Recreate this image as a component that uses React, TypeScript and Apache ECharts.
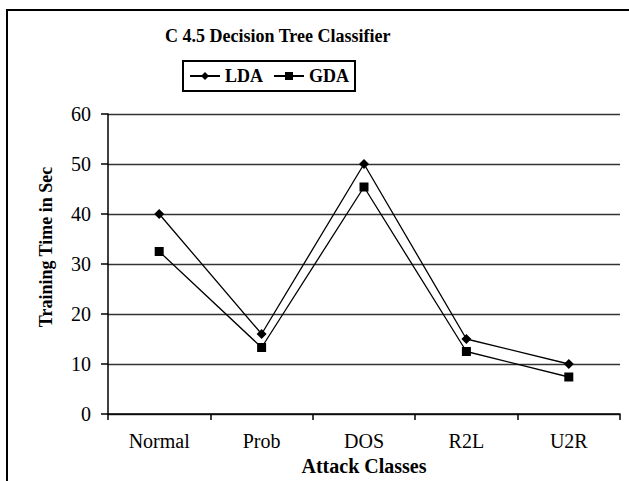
import React, { useEffect, useRef } from "react";
import * as echarts from "echarts";

const categories = ["Normal", "Prob", "DOS", "R2L", "U2R"];
const ldaValues = [40, 16, 50, 15, 10];
const gdaValues = [32.5, 13.3, 45.4, 12.5, 7.4];
const titleText = "C 4.5 Decision Tree Classifier";
const xAxisTitle = "Attack Classes";
const yAxisTitle = "Training Time in Sec";

const SERIF = "Liberation Serif";

export default function App() {
  const ref = useRef<HTMLDivElement>(null);
  useEffect(() => {
    if (!ref.current) return;
    const chart = echarts.init(ref.current, undefined, { renderer: "svg" });
    chart.setOption({
      animation: false,
      backgroundColor: "#ffffff",
      textStyle: { fontFamily: SERIF, color: "#000" },
      title: {
        text: titleText,
        left: 165,
        top: 27,
        padding: 0,
        textStyle: { fontFamily: SERIF, fontWeight: "bold", fontSize: 18, color: "#000" },
      },
      legend: {
        left: 183,
        top: 61,
        orient: "horizontal",
        padding: [6, 6, 6, 6],
        borderColor: "#000",
        borderWidth: 2,
        itemWidth: 30,
        itemHeight: 10,
        itemGap: 10,
        textStyle: { fontFamily: SERIF, fontWeight: "bold", fontSize: 18, color: "#000" },
        data: ["LDA", "GDA"],
      },
      grid: { left: 108, right: 9, top: 114, bottom: 67, containLabel: false },
      xAxis: {
        type: "category",
        data: categories,
        boundaryGap: true,
        axisLine: { lineStyle: { color: "#000", width: 1.5 } },
        axisTick: { show: true, length: 6, lineStyle: { color: "#000", width: 1.5 } },
        axisLabel: { fontFamily: SERIF, fontSize: 20, color: "#000", margin: 17 },
        name: xAxisTitle,
        nameLocation: "middle",
        nameGap: 37,
        nameTextStyle: { fontFamily: SERIF, fontWeight: "bold", fontSize: 20, color: "#000" },
      },
      yAxis: {
        type: "value",
        min: 0,
        max: 60,
        interval: 10,
        axisLine: { show: true, lineStyle: { color: "#000", width: 1.5 } },
        axisTick: { show: true, length: 7, lineStyle: { color: "#000", width: 1.5 } },
        axisLabel: { fontFamily: SERIF, fontSize: 20, color: "#000", margin: 17 },
        splitLine: { show: true, lineStyle: { color: "#333", width: 1.4 } },
      },
      graphic: [
        {
          type: "rect",
          shape: { x: 7, y: 10, width: 660, height: 520 },
          style: { fill: "none", stroke: "#000", lineWidth: 2 },
          silent: true,
        },
        {
          type: "text",
          x: 46,
          y: 247,
          rotation: Math.PI / 2,
          style: {
            text: yAxisTitle,
            fontFamily: SERIF,
            fontWeight: "bold",
            fontSize: 18,
            fill: "#000",
            align: "center",
            verticalAlign: "middle",
          },
        },
      ],
      series: [
        {
          name: "LDA",
          type: "line",
          data: ldaValues,
          symbol: "diamond",
          symbolSize: 10,
          lineStyle: { color: "#000", width: 1.3 },
          itemStyle: { color: "#000" },
        },
        {
          name: "GDA",
          type: "line",
          data: gdaValues,
          symbol: "rect",
          symbolSize: 9,
          lineStyle: { color: "#000", width: 1.3 },
          itemStyle: { color: "#000" },
        },
      ],
    });
    return () => chart.dispose();
  }, []);
  return (
    <div
      ref={ref}
      style={{ position: "absolute", left: 0, top: 0, width: 629, height: 481 }}
    />
  );
}
